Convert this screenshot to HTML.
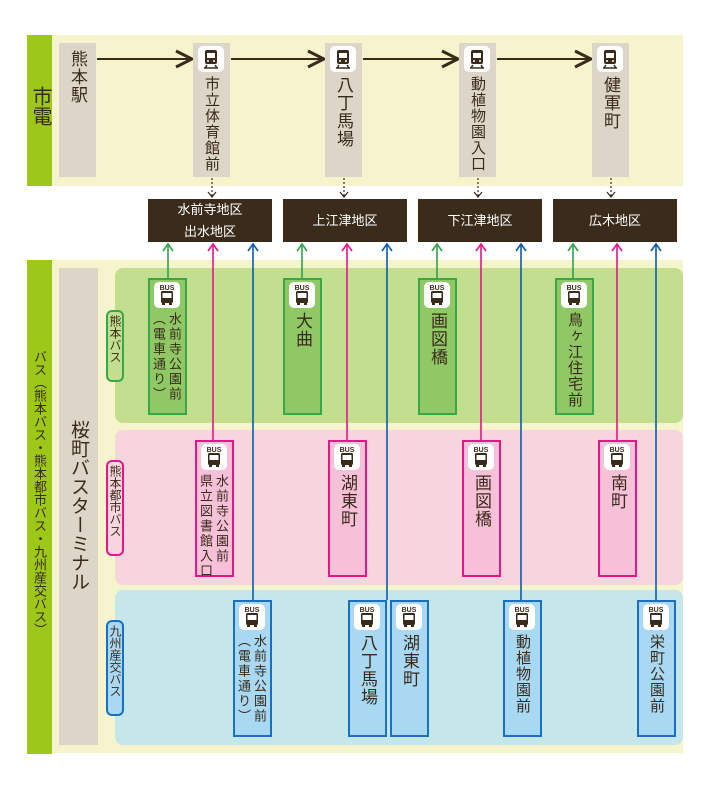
<!DOCTYPE html>
<html><head><meta charset="utf-8"><style>
body{margin:0;width:709px;height:786px;background:#fff;position:relative;overflow:hidden;font-family:"Liberation Sans","Noto Sans CJK JP",sans-serif;color:#3a2a1a}
div{position:absolute;box-sizing:border-box}
.v{writing-mode:vertical-rl;text-orientation:upright;white-space:nowrap}
.ic{background:#fff;border-radius:5px;width:26px;height:26px}
.dk{background:#3a2b1b;color:#fff;font-size:13px;text-align:center;display:flex;flex-direction:column;justify-content:center;line-height:22px}
</style></head><body>
<div style="left:52px;top:35px;width:631px;height:151px;background:#f5f4cc"></div>
<div style="left:27px;top:35px;width:25px;height:151px;background:#9dc81a"></div>
<div class="v" style="left:27px;top:86px;width:25px;font-size:20px;line-height:25px;color:#3a2a1a">市電</div>
<div style="left:59px;top:43px;width:37px;height:134px;background:#ddd6c8"></div>
<div class="v" style="left:59px;top:50px;width:37px;font-size:17px;line-height:37px;letter-spacing:1px">熊本駅</div>
<svg style="position:absolute;left:0;top:0" width="709" height="786">
<defs><marker id="ah" markerWidth="10" markerHeight="10" refX="9" refY="5" orient="auto"><path d="M1,1 L9,5 L1,9" fill="none" stroke="#3a2a1a" stroke-width="1.5"/></marker></defs>
<g stroke="#3a2a1a" stroke-width="2" marker-end="url(#ah)">
<line x1="97" y1="59" x2="192" y2="59"/><line x1="231" y1="59" x2="324" y2="59"/><line x1="363" y1="59" x2="458" y2="59"/><line x1="497" y1="59" x2="591" y2="59"/></g>
</svg>
<script>
const B=document.body;
function el(h){B.insertAdjacentHTML('beforeend',h)}
function train(x,y){return `<div class="ic" style="left:${x}px;top:${y}px"><svg width="26" height="26"><rect x="7" y="4" width="12" height="14" rx="2" fill="#3a2a1a"/><rect x="9" y="7" width="8" height="5" fill="#fff"/><circle cx="10" cy="15" r="1" fill="#fff"/><circle cx="16" cy="15" r="1" fill="#fff"/><path d="M7,22 L9,19 M19,22 L17,19 M6,22 H20" stroke="#3a2a1a" stroke-width="1.5"/></svg></div>`}
function bus(x,y){return `<div class="ic" style="left:${x}px;top:${y}px"><svg width="26" height="26"><text x="13" y="8" font-size="7" font-weight="bold" text-anchor="middle" fill="#3a2a1a" font-family="Liberation Sans">BUS</text><rect x="7" y="9" width="12" height="12" rx="1.5" fill="#3a2a1a"/><rect x="8.5" y="11" width="9" height="5" fill="#fff"/><rect x="8" y="21" width="3" height="2" fill="#3a2a1a"/><rect x="15" y="21" width="3" height="2" fill="#3a2a1a"/></svg></div>`}
[[193,'市立体育館前'],[325,'八丁馬場'],[459,'動植物園入口'],[592,'健軍町']].forEach(([x,t])=>{
 el(`<div style="left:${x}px;top:43px;width:37px;height:134px;background:#ddd6c8"></div>`+train(x+5,46)+
 `<div class="v" style="left:${x}px;top:76px;width:37px;font-size:${t.length>4?15:17}px;line-height:37px;letter-spacing:1px">${t}</div>`);
 el(`<svg style="position:absolute;left:${x+12}px;top:178px" width="14" height="22"><line x1="7" y1="0" x2="7" y2="18" stroke="#3a2a1a" stroke-width="1.2" stroke-dasharray="2,2"/><path d="M3,14 L7,19 L11,14" fill="none" stroke="#3a2a1a" stroke-width="1.2"/></svg>`);
});
[[148,'水前寺地区<br>出水地区'],[283,'上江津地区'],[418,'下江津地区'],[553,'広木地区']].forEach(([x,t])=>el(`<div class="dk" style="left:${x}px;top:199px;width:124px;height:43px">${t}</div>`));
el(`<div style="left:52px;top:260px;width:631px;height:493px;background:#f5f4cc"></div>
<div style="left:27px;top:260px;width:25px;height:494px;background:#9dc81a"></div>
<div class="v" style="left:27px;top:350px;width:25px;font-size:13px;line-height:25px">バス（熊本バス・熊本都市バス・九州産交バス）</div>
<div style="left:59px;top:268px;width:39px;height:477px;background:#ddd6c8"></div>
<div class="v" style="left:59px;top:420px;width:39px;font-size:19px;line-height:39px">桜町バスターミナル</div>
<div style="left:115px;top:268px;width:568px;height:155px;background:#c2df8f;border-radius:8px"></div>
<div style="left:115px;top:430px;width:568px;height:155px;background:#f6d5dc;border-radius:8px"></div>
<div style="left:115px;top:590px;width:568px;height:155px;background:#c6e7e9;border-radius:8px"></div>
<div class="v" style="left:106px;top:310px;width:18px;height:72px;border:2px solid #3aa64a;border-radius:6px;background:#c2df8f;font-size:12px;line-height:14px;padding-top:3px">熊本バス</div>
<div class="v" style="left:106px;top:460px;width:18px;height:96px;border:2px solid #e5158a;border-radius:6px;background:#f6d5dc;font-size:12px;line-height:14px;padding-top:3px">熊本都市バス</div>
<div class="v" style="left:106px;top:620px;width:18px;height:96px;border:2px solid #1b6fc0;border-radius:6px;background:#a8d8f2;font-size:12px;line-height:14px;padding-top:3px">九州産交バス</div>`);
let L='<svg style="position:absolute;left:0;top:0" width="709" height="786">';
const C={g:'#2fa24a',p:'#e5158a',b:'#0a5cab'};
[[168,278,'g'],[213,440,'p'],[253,600,'b'],[302,278,'g'],[347,440,'p'],[387,600,'b'],[437,278,'g'],[481,440,'p'],[521,600,'b'],[573,278,'g'],[617,440,'p'],[656,600,'b']].forEach(([x,y,c])=>{
 L+=`<line x1="${x}" y1="${y}" x2="${x}" y2="245" stroke="${C[c]}" stroke-width="1.6"/><path d="M${x-5},251 L${x},244 L${x+5},251" fill="none" stroke="${C[c]}" stroke-width="1.6"/>`});
el(L+'</svg>');
const S={g:['#8fc865','#3aa64a'],p:['#f6c0d8','#e5158a'],b:['#a8d8f2','#1b6fc0']};
[[148,278,'g','水前寺公園前<br>（電車通り）'],[283,278,'g','大曲'],[418,278,'g','画図橋'],[555,278,'g','鳥ヶ江住宅前'],
 [195,440,'p','水前寺公園前<br>県立図書館入口'],[328,440,'p','湖東町'],[462,440,'p','画図橋'],[598,440,'p','南町'],
 [233,600,'b','水前寺公園前<br>（電車通り）'],[348,600,'b','八丁馬場'],[390,600,'b','湖東町'],[503,600,'b','動植物園前'],[637,600,'b','栄町公園前']].forEach(([x,y,c,t])=>{
 const two=t.includes('<br>');const fs=two?13:(t.length>=5?15:17);
 el(`<div style="left:${x}px;top:${y}px;width:39px;height:137px;background:${S[c][0]};border:2px solid ${S[c][1]}"></div>`+bus(x+6,y+4)+
 `<div class="v" style="left:${x}px;top:${y+34}px;width:39px;height:100px;font-size:${fs}px;line-height:${two?16:37}px;letter-spacing:${two?2:1}px;${two?'padding-right:3px':''};display:flex;align-items:center">${t}</div>`);
});
</script>
</body></html>
